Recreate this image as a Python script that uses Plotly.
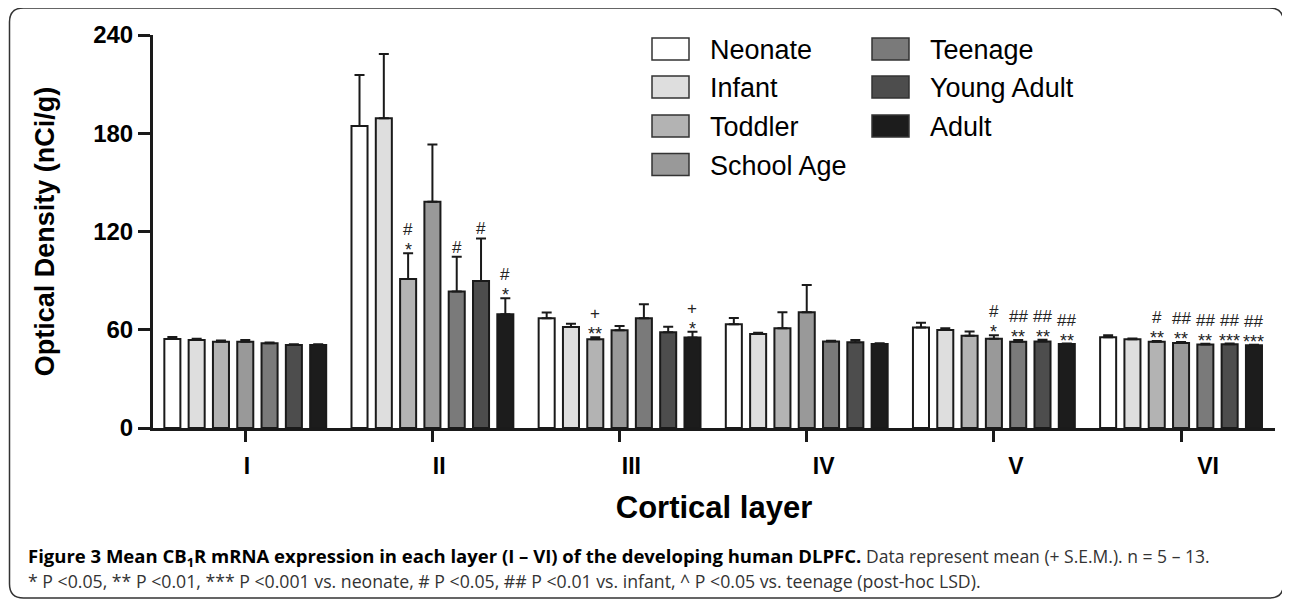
import plotly.graph_objects as go

# ---------------- data ----------------
layers = ["I", "II", "III", "IV", "V", "VI"]
series_names = ["Neonate", "Infant", "Toddler", "School Age", "Teenage", "Young Adult", "Adult"]
series_colors = ["#ffffff", "#dedede", "#b3b3b3", "#999999", "#7a7a7a", "#4d4d4d", "#1c1c1c"]

neonate = [54.3, 184.4, 67.0, 63.3, 61.3, 55.4]
infant = [53.7, 189.1, 61.7, 57.4, 59.8, 54.2]
toddler = [52.7, 91.0, 54.2, 60.9, 56.4, 52.7]
school_age = [52.7, 138.2, 59.7, 70.7, 54.5, 51.9]
teenage = [51.7, 83.3, 67.0, 52.9, 52.7, 51.0]
young_adult = [50.7, 89.8, 58.4, 52.3, 52.9, 51.1]
adult = [50.7, 69.4, 55.2, 51.3, 51.3, 50.5]

sem_neonate = [1.2, 31.2, 3.6, 3.9, 3.0, 1.2]
sem_infant = [0.8, 39.3, 2.0, 0.8, 1.1, 0.4]
sem_toddler = [0.8, 15.7, 1.2, 9.8, 2.6, 0.4]
sem_school_age = [1.0, 35.0, 2.6, 16.6, 2.1, 0.6]
sem_teenage = [0.5, 21.3, 8.5, 0.4, 1.0, 0.4]
sem_young_adult = [0.4, 26.0, 3.5, 1.4, 1.0, 0.5]
sem_adult = [0.4, 9.8, 3.6, 0.4, 0.3, 0.3]

sig_neonate = ["", "", "", "", "", ""]
sig_infant = ["", "", "", "", "", ""]
sig_toddler = ["", "#<br>*", "+<br>**", "", "", "#<br>**"]
sig_school_age = ["", "", "", "", "#<br>*", "##<br>**"]
sig_teenage = ["", "#", "", "", "##<br>**", "##<br>**"]
sig_young_adult = ["", "#", "", "", "##<br>**", "##<br>***"]
sig_adult = ["", "#<br>*", "+<br>*", "", "##<br>**", "##<br>***"]

y_ticks = [0, 60, 120, 180, 240]

means = [neonate, infant, toddler, school_age, teenage, young_adult, adult]
sems = [sem_neonate, sem_infant, sem_toddler, sem_school_age, sem_teenage, sem_young_adult, sem_adult]
sigs = [sig_neonate, sig_infant, sig_toddler, sig_school_age, sig_teenage, sig_young_adult, sig_adult]

# ---------------- layout geometry (page pixels; body has an 8px margin) ----------------
OFF = 8
W, H = 1290 - OFF, 600 - OFF
PL, PR, PT, PB = 153, 1275, 35, 428          # plot area in page pixels
L, R, T, B = PL - OFF, W - (PR - OFF), PT - OFF, H - (PB - OFF)
XR = [-0.493, 5.502]
BARGAP = 0.091
FONT = "Liberation Sans, Arial, sans-serif"
CAPFONT = "Open Sans, Noto Sans, sans-serif"


def px2x(px):
    return (px - PL) / (PR - PL)


def px2y(py):
    return (PB - py) / (PB - PT)


fig = go.Figure()
xs = list(range(len(layers)))
for k, name in enumerate(series_names):
    fig.add_trace(go.Bar(
        x=xs, y=means[k], name=name, showlegend=False,
        marker=dict(color=series_colors[k], line=dict(color="#1a1a1a", width=2)),
        error_y=dict(type="data", array=sems[k], arrayminus=[0] * len(layers),
                     symmetric=False, color="#1a1a1a", thickness=2, width=5),
    ))

# significance labels
n = len(series_names)
slot = (1 - BARGAP) / n
for k in range(n):
    for g in range(len(layers)):
        txt = sigs[k][g]
        if not txt:
            continue
        parts = txt.split("<br>")
        xpos = g + (k - (n - 1) / 2) * slot
        ytop = means[k][g] + sems[k][g]
        if len(parts) == 2:
            top, bottom = parts
        else:
            top, bottom = None, parts[0]
        if "*" in bottom:
            fig.add_annotation(x=xpos, y=ytop, xref="x", yref="y", text=bottom, showarrow=False,
                               yanchor="bottom", yshift=-9,
                               font=dict(family=FONT, size=18, color="#222"))
            hash_shift = 12
        else:
            top = bottom
            hash_shift = -2
        if top:
            fig.add_annotation(x=xpos, y=ytop, xref="x", yref="y", text=top, showarrow=False,
                               yanchor="bottom", yshift=hash_shift,
                               font=dict(family=FONT, size=17, color="#222"))

# manual legend (two columns)
legend_rows = [49, 87, 126, 164.5]
for k, name in enumerate(series_names):
    col = 0 if k < 4 else 1
    row = k if k < 4 else k - 4
    x0 = 652 if col == 0 else 872
    cy = legend_rows[row]
    fig.add_shape(type="rect", xref="paper", yref="paper",
                  x0=px2x(x0), x1=px2x(x0 + 37), y0=px2y(cy - 11), y1=px2y(cy + 11),
                  fillcolor=series_colors[k], line=dict(color="#333", width=1.5))
    fig.add_annotation(xref="paper", yref="paper", x=px2x(x0 + 56), y=px2y(cy + 1),
                       text=name, showarrow=False, xanchor="left", yanchor="middle",
                       font=dict(family=FONT, size=27, color="#000"))

# rounded frame
fx0, fx1, fy0, fy1, rr = 9.5, 1283.5, 8, 598, 14
path = (f"M {px2x(fx0 + rr)},{px2y(fy0)} L {px2x(fx1 - rr)},{px2y(fy0)} "
        f"Q {px2x(fx1)},{px2y(fy0)} {px2x(fx1)},{px2y(fy0 + rr)} "
        f"L {px2x(fx1)},{px2y(fy1 - rr)} Q {px2x(fx1)},{px2y(fy1)} {px2x(fx1 - rr)},{px2y(fy1)} "
        f"L {px2x(fx0 + rr)},{px2y(fy1)} Q {px2x(fx0)},{px2y(fy1)} {px2x(fx0)},{px2y(fy1 - rr)} "
        f"L {px2x(fx0)},{px2y(fy0 + rr)} Q {px2x(fx0)},{px2y(fy0)} {px2x(fx0 + rr)},{px2y(fy0)} Z")
fig.add_shape(type="path", xref="paper", yref="paper", path=path,
              line=dict(color="#333", width=1.5), layer="below")

# caption
fig.add_annotation(
    xref="paper", yref="paper", x=px2x(26), y=px2y(557), xanchor="left", yanchor="middle",
    showarrow=False, align="left",
    text=("<b>Figure 3 Mean CB<sub>1</sub>R mRNA expression in each layer (I – VI) of the developing human DLPFC.</b>"
          " <span style='font-size:17.5px;color:#333'>Data represent mean (+ S.E.M.). n = 5 – 13.</span>"),
    font=dict(family=CAPFONT, size=18.5, color="#000"),
)
fig.add_annotation(
    xref="paper", yref="paper", x=px2x(26), y=px2y(581), xanchor="left", yanchor="middle",
    showarrow=False, align="left",
    text="* P <0.05, ** P <0.01, *** P <0.001 vs. neonate, # P <0.05, ## P <0.01 vs. infant, ^ P <0.05 vs. teenage (post-hoc LSD).",
    font=dict(family=CAPFONT, size=17.7, color="#333"),
)

# label axis with slightly different spacing (as in the reference)
lab_r0 = -(247 - PL) / 192.2
lab_r1 = lab_r0 + (PR - PL) / 192.2

fig.update_layout(
    width=W, height=H,
    margin=dict(l=L, r=R, t=T, b=B),
    paper_bgcolor="white", plot_bgcolor="white",
    barmode="group", bargap=BARGAP, bargroupgap=0.34,
    showlegend=False,
    font=dict(family=FONT, color="#000"),
    xaxis=dict(
        range=XR, tickvals=xs, showticklabels=False,
        showline=True, linecolor="#1a1a1a", linewidth=3,
        ticks="outside", ticklen=11, tickwidth=3, tickcolor="#1a1a1a",
        showgrid=False, zeroline=False,
    ),
    xaxis2=dict(
        overlaying="x", anchor="y", side="bottom",
        range=[lab_r0, lab_r1], tickvals=xs, ticktext=layers,
        showline=False, ticks="", showgrid=False, zeroline=False,
        tickfont=dict(family=FONT, size=23, color="#000", weight="bold"),
        ticklabelstandoff=22,
        title=dict(text="<b>Cortical layer</b>", font=dict(family=FONT, size=31, color="#000"), standoff=18),
    ),
    yaxis=dict(
        range=[0, 240], tickvals=y_ticks,
        showline=True, linecolor="#1a1a1a", linewidth=3,
        ticks="outside", ticklen=12, tickwidth=3, tickcolor="#1a1a1a",
        showgrid=False, zeroline=False,
        tickfont=dict(family=FONT, size=24, color="#000", weight="bold"),
        title=dict(text="<b>Optical Density (nCi/g)</b>", font=dict(family=FONT, size=27, color="#000"), standoff=31),
    ),
)
# invisible trace to keep xaxis2 active
fig.add_trace(go.Scatter(x=[0], y=[0], xaxis="x2", yaxis="y", mode="markers",
                         marker=dict(opacity=0), hoverinfo="skip", showlegend=False))

fig.write_html("out.html")
